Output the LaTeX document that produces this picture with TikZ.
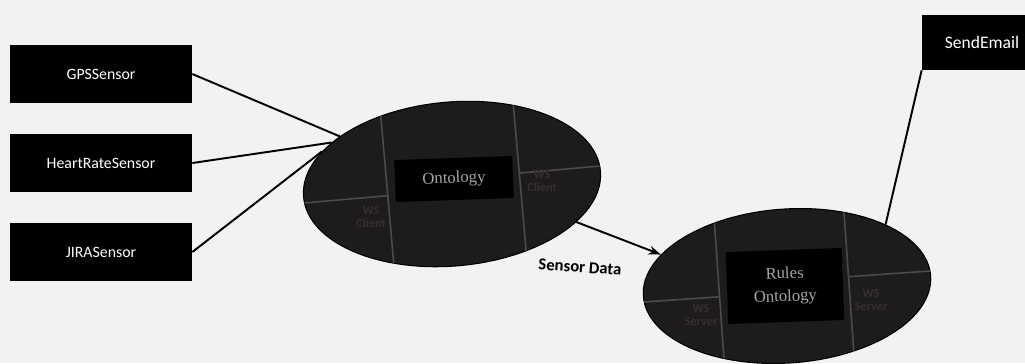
\documentclass[tikz,border=0pt]{standalone}
\usepackage{fontspec}
\setmainfont{Carlito}
\newfontfamily\coreface{Liberation Serif}
\usetikzlibrary{positioning, arrows.meta, shapes.geometric, calc}

\definecolor{paper}{HTML}{F3F1F1}
\definecolor{blob}{HTML}{1E1B1C}
\definecolor{seam}{HTML}{4C4A4A}
\definecolor{dimtext}{HTML}{34302F}

\begin{document}
\begin{tikzpicture}[
    every node/.style={font=\fontsize{9}{10}\selectfont},
    sensor/.style={rectangle, fill=black, text=white, minimum width=3.64cm, minimum height=1.16cm},
    blobnode/.style={ellipse, draw=black, line width=0.6pt, fill=blob, inner sep=0pt},
    core/.style={rectangle, fill=black, text=gray!70, align=center, font=\coreface\fontsize{9.5}{13}\selectfont},
    port/.style={text=dimtext, align=center, font=\bfseries\fontsize{7}{7.5}\selectfont},
    seamline/.style={draw=seam, line width=0.9pt},
    rel/.style={draw, line width=1.1pt},
    tag/.style={font=\bfseries\fontsize{9.5}{10}\selectfont, rotate=-4}]

  \fill[paper] (0,0) rectangle (20.5,-7.26);
  \useasboundingbox (0,0) rectangle (20.5,-7.26);

  \node[sensor] (gps)   at (2.02,-1.48) {GPSSensor};
  \node[sensor] (heart) at (2.02,-3.26) {HeartRateSensor};
  \node[sensor] (jira)  at (2.02,-5.04) {JIRASensor};
  \node[sensor, minimum width=2.4cm, minimum height=1.1cm, font=\fontsize{10}{11}\selectfont] (mail) at (19.64,-0.85) {SendEmail};

  \node[blobnode, minimum width=5.96cm, minimum height=3.28cm, rotate=5] (onto)  at (9.04,-3.68) {};
  \node[blobnode, minimum width=5.76cm, minimum height=3.08cm, rotate=4] (rules) at (15.74,-5.72) {};

  \begin{scope}[shift={(onto.center)}, rotate=5]
    \clip (0,0) ellipse (2.98 and 1.64);
    \draw[seamline] (-1.3,-2) -- (-1.3,2);
    \draw[seamline] (1.36,-2) -- (1.36,2);
    \draw[seamline] (-3,-0.12) -- (-1.3,-0.12);
    \draw[seamline] (1.36,0.1) -- (3,0.1);
  \end{scope}

  \begin{scope}[shift={(rules.center)}, rotate=4]
    \clip (0,0) ellipse (2.88 and 1.54);
    \draw[seamline] (-1.36,-2) -- (-1.36,2);
    \draw[seamline] (1.24,-2) -- (1.24,2);
    \draw[seamline] (-3,-0.12) -- (-1.36,-0.12);
    \draw[seamline] (1.24,0.1) -- (3,0.1);
  \end{scope}

  \node[core, minimum width=2.36cm, minimum height=0.84cm, rotate=2] (ontobox)  at (9.08,-3.58) {Ontology};
  \node[core, minimum width=2.32cm, minimum height=1.44cm, rotate=2] (rulesbox) at (15.7,-5.72) {Rules\\Ontology};

  \node[port] (c1) at (7.42,-4.34) {WS\\Client};
  \node[port] (c2) at (10.84,-3.62) {WS\\Client};
  \node[port] (s1) at (14.02,-6.3) {WS\\Server};
  \node[port] (s2) at (17.42,-6.0) {WS\\Server};

  \draw[rel] (gps.east)   -- (onto.152);
  \draw[rel] (heart.east) -- (onto.156);
  \draw[rel] (jira.east)  -- (onto.161);

  \draw[rel, -{Stealth[length=7pt, width=5pt]}] (onto.-22) -- (rules.162);
  \node[tag] (data) at (11.6,-5.34) {Sensor Data};

  \draw[rel] (rules.28) -- (mail.south west);
\end{tikzpicture}
\end{document}
